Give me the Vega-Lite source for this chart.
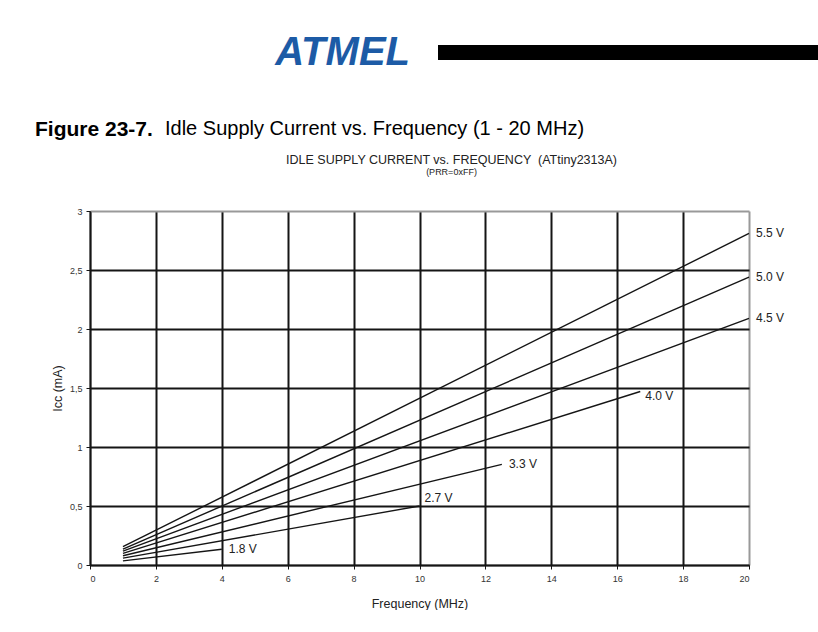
{
  "$schema": "https://vega.github.io/schema/vega-lite/v6.json",
  "background": "white",
  "padding": {"left": 35, "top": 25, "right": 0, "bottom": 0},
  "config": {"view": {"stroke": null}, "font": "Liberation Sans"},
  "bounds": "flush",
  "spacing": 93,
  "vconcat": [
    {
      "bounds": "flush",
      "center": true,
      "spacing": 28,
      "hconcat": [
        {
          "width": 320,
          "height": 55,
          "data": {"values": [{"name": "ATMEL"}]},
          "mark": {"type": "text", "align": "right", "baseline": "middle", "fontSize": 40, "fontWeight": 900, "fontStyle": "italic", "color": "#1d5ba6", "font": "Liberation Sans"},
          "encoding": {"x": {"value": "width"}, "text": {"field": "name"}}
        },
        {
          "width": 380,
          "height": 15,
          "data": {"values": [{"bar": 1}]},
          "mark": {"type": "rect", "color": "black"},
          "encoding": {}
        }
      ]
    },
    {
      "bounds": "flush",
      "spacing": 0,
      "hconcat": [
        {
          "width": 75,
          "height": 1,
          "data": {"values": []},
          "mark": "point",
          "title": {"text": "Figure 23-7.", "orient": "bottom", "anchor": "start", "dx": -55, "fontSize": 21, "fontWeight": "bold", "color": "black", "offset": 0}
        },
        {
          "width": 1,
          "height": 1,
          "data": {"values": []},
          "mark": "point",
          "title": {"text": "Idle Supply Current vs. Frequency (1 - 20 MHz)", "orient": "bottom", "anchor": "start", "fontSize": 20, "fontWeight": "normal", "color": "black", "offset": 0}
        }
      ]
    },
    {
      "width": 659,
      "height": 354,
      "title": {
        "text": "IDLE SUPPLY CURRENT vs. FREQUENCY \u00a0(ATtiny2313A)",
        "subtitle": "(PRR=0xFF)",
        "anchor": "middle",
        "frame": "group",
        "dx": 32,
        "fontSize": 12.5,
        "fontWeight": "normal",
        "color": "#222",
        "subtitleFontSize": 9,
        "subtitleColor": "#222",
        "subtitlePadding": 2,
        "offset": 30
      },
      "data": {
        "values": [
          {"v": "1.8 V", "f": 1, "i": 0.035},
          {"v": "1.8 V", "f": 4, "i": 0.133},
          {"v": "2.7 V", "f": 1, "i": 0.058},
          {"v": "2.7 V", "f": 10, "i": 0.5},
          {"v": "3.3 V", "f": 1, "i": 0.078},
          {"v": "3.3 V", "f": 12.5, "i": 0.853},
          {"v": "4.0 V", "f": 1, "i": 0.098},
          {"v": "4.0 V", "f": 16.7, "i": 1.47},
          {"v": "4.5 V", "f": 1, "i": 0.117},
          {"v": "4.5 V", "f": 20, "i": 2.09},
          {"v": "5.0 V", "f": 1, "i": 0.135},
          {"v": "5.0 V", "f": 20, "i": 2.44},
          {"v": "5.5 V", "f": 1, "i": 0.155},
          {"v": "5.5 V", "f": 20, "i": 2.81}
        ]
      },
      "encoding": {
        "x": {
          "field": "f",
          "type": "quantitative",
          "scale": {"domain": [0, 20], "nice": false, "zero": false},
          "axis": {
            "title": "Frequency (MHz)",
            "values": [0, 2, 4, 6, 8, 10, 12, 14, 16, 18, 20],
            "grid": true,
            "gridColor": {"condition": {"test": "datum.value == 20", "value": "#999999"}, "value": "#151515"},
            "gridWidth": 2,
            "gridOpacity": 1,
            "domainColor": "#151515",
            "domainWidth": 1.5,
            "tickColor": "#151515",
            "tickSize": 4,
            "tickWidth": 1,
            "labelFontSize": 9,
            "labelColor": "#333",
            "labelPadding": 5,
            "titleFontSize": 12.5,
            "titleFontWeight": "normal",
            "titleColor": "#222",
            "titlePadding": 14
          }
        },
        "y": {
          "field": "i",
          "type": "quantitative",
          "scale": {"domain": [0, 3], "nice": false},
          "axis": {
            "title": "Iᴄᴄ (mA)",
            "values": [0, 0.5, 1, 1.5, 2, 2.5, 3],
            "labelExpr": "replace(format(datum.value, '~g'), '.', ',')",
            "grid": true,
            "gridColor": {"condition": {"test": "datum.value == 3", "value": "#999999"}, "value": "#151515"},
            "gridWidth": 2,
            "gridOpacity": 1,
            "domainColor": "#151515",
            "domainWidth": 1.5,
            "tickColor": "#151515",
            "tickSize": 4,
            "tickWidth": 1,
            "labelFontSize": 9,
            "labelColor": "#333",
            "labelPadding": 4,
            "titleFontSize": 12.5,
            "titleFontWeight": "normal",
            "titleColor": "#222",
            "titlePadding": 5
          }
        }
      },
      "layer": [
        {
          "mark": {"type": "line", "color": "#151515", "strokeWidth": 1.4},
          "encoding": {"detail": {"field": "v"}}
        },
        {
          "transform": [
            {"joinaggregate": [{"op": "max", "field": "f", "as": "fmax"}], "groupby": ["v"]},
            {"filter": "datum.f == datum.fmax && datum.v != '2.7 V' && datum.v != '4.0 V'"}
          ],
          "mark": {"type": "text", "align": "left", "baseline": "middle", "dx": 7, "fontSize": 12, "color": "#222", "clip": false},
          "encoding": {"text": {"field": "v"}}
        },
        {
          "transform": [
            {"joinaggregate": [{"op": "max", "field": "f", "as": "fmax"}], "groupby": ["v"]},
            {"filter": "datum.f == datum.fmax && datum.v == '2.7 V'"}
          ],
          "mark": {"type": "text", "align": "left", "baseline": "middle", "dx": 5, "dy": -8, "fontSize": 12, "color": "#222"},
          "encoding": {"text": {"field": "v"}}
        },
        {
          "transform": [
            {"joinaggregate": [{"op": "max", "field": "f", "as": "fmax"}], "groupby": ["v"]},
            {"filter": "datum.f == datum.fmax && datum.v == '4.0 V'"}
          ],
          "mark": {"type": "text", "align": "left", "baseline": "middle", "dx": 5, "dy": 4, "fontSize": 12, "color": "#222"},
          "encoding": {"text": {"field": "v"}}
        }
      ]
    }
  ]
}
